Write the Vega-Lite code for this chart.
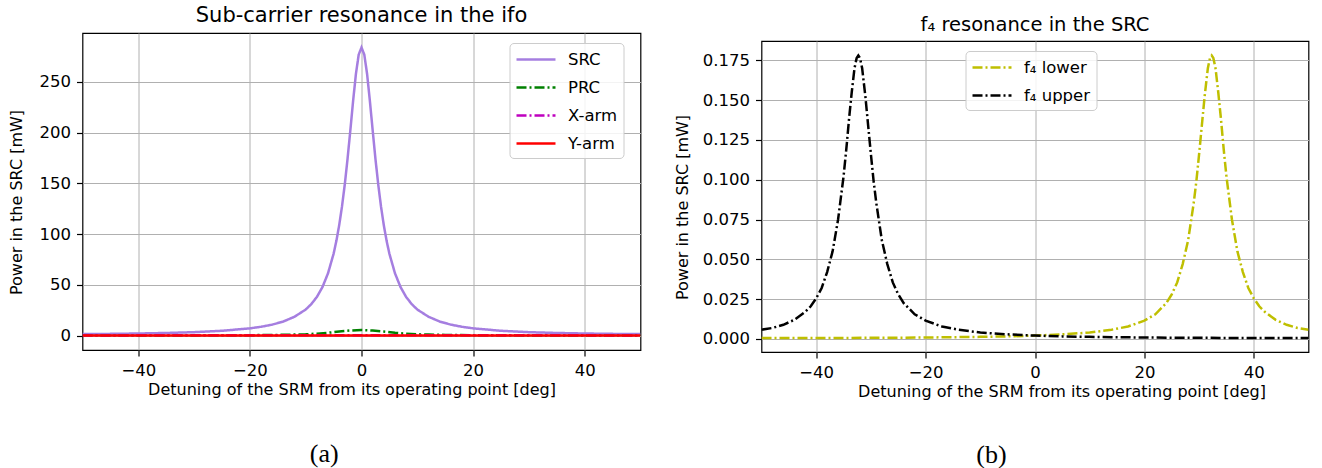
{
  "$schema": "https://vega.github.io/schema/vega-lite/v6.json",
  "padding": {"left": 6.5, "top": 4, "right": 0, "bottom": 0},
  "background": "white",
  "spacing": 32,
  "resolve": {"scale": {"color": "independent", "strokeDash": "independent"}, "legend": {"color": "independent", "strokeDash": "independent"}},
  "config": {
    "font": "DejaVu Sans",
    "view": {"stroke": "black", "strokeWidth": 1.2},
    "axis": {"domain": false, "grid": true, "gridColor": "#b0b0b0", "gridWidth": 1, "tickColor": "black", "tickSize": 6, "tickWidth": 1.2, "labelFont": "DejaVu Sans", "labelFontSize": 16.5, "labelColor": "black", "titleFont": "DejaVu Sans", "titleFontSize": 16, "titleFontWeight": "normal", "titleColor": "black", "labelPadding": 6, "labelOverlap": false, "labelFlush": false},
    "axisX": {"titlePadding": 3},
    "title": {"font": "DejaVu Sans", "fontWeight": "normal", "color": "black", "anchor": "middle"},
    "legend": {"symbolSize": 380, "symbolStrokeWidth": 2.5, "symbolOffset": 10, "labelFont": "DejaVu Sans", "labelFontSize": 16.5, "labelColor": "black", "fillColor": "rgba(255,255,255,0.85)", "strokeColor": "#cccccc", "cornerRadius": 4, "padding": 5.5, "rowPadding": 8, "labelOffset": 21}
  },
  "datasets": {
    "left": [
      {"x": -50, "y": 1.46, "series": "SRC"}, {"x": -45, "y": 1.7, "series": "SRC"}, {"x": -40, "y": 2.06, "series": "SRC"}, {"x": -35, "y": 2.58, "series": "SRC"}, {"x": -30, "y": 3.39, "series": "SRC"}, {"x": -25, "y": 4.73, "series": "SRC"}, {"x": -20, "y": 7.15, "series": "SRC"}, {"x": -18, "y": 8.7, "series": "SRC"}, {"x": -16, "y": 10.8, "series": "SRC"}, {"x": -14, "y": 13.9, "series": "SRC"}, {"x": -12, "y": 18.6, "series": "SRC"}, {"x": -10, "y": 25.7, "series": "SRC"}, {"x": -9, "y": 31.0, "series": "SRC"}, {"x": -8, "y": 38.1, "series": "SRC"}, {"x": -7, "y": 47.8, "series": "SRC"}, {"x": -6, "y": 61.4, "series": "SRC"}, {"x": -5, "y": 80.7, "series": "SRC"}, {"x": -4.5, "y": 93.4, "series": "SRC"}, {"x": -4, "y": 108.7, "series": "SRC"}, {"x": -3.5, "y": 127.1, "series": "SRC"}, {"x": -3, "y": 148.9, "series": "SRC"}, {"x": -2.5, "y": 174.2, "series": "SRC"}, {"x": -2, "y": 202.4, "series": "SRC"}, {"x": -1.5, "y": 231.5, "series": "SRC"}, {"x": -1, "y": 258, "series": "SRC"}, {"x": -0.5, "y": 277, "series": "SRC"}, {"x": 0, "y": 284, "series": "SRC"}, {"x": 0.5, "y": 277, "series": "SRC"}, {"x": 1, "y": 258, "series": "SRC"}, {"x": 1.5, "y": 231.5, "series": "SRC"}, {"x": 2, "y": 202.4, "series": "SRC"}, {"x": 2.5, "y": 174.2, "series": "SRC"}, {"x": 3, "y": 148.9, "series": "SRC"}, {"x": 3.5, "y": 127.1, "series": "SRC"}, {"x": 4, "y": 108.7, "series": "SRC"}, {"x": 4.5, "y": 93.4, "series": "SRC"}, {"x": 5, "y": 80.7, "series": "SRC"}, {"x": 6, "y": 61.4, "series": "SRC"}, {"x": 7, "y": 47.8, "series": "SRC"}, {"x": 8, "y": 38.1, "series": "SRC"}, {"x": 9, "y": 31.0, "series": "SRC"}, {"x": 10, "y": 25.7, "series": "SRC"}, {"x": 12, "y": 18.6, "series": "SRC"}, {"x": 14, "y": 13.9, "series": "SRC"}, {"x": 16, "y": 10.8, "series": "SRC"}, {"x": 18, "y": 8.7, "series": "SRC"}, {"x": 20, "y": 7.15, "series": "SRC"}, {"x": 25, "y": 4.73, "series": "SRC"}, {"x": 30, "y": 3.39, "series": "SRC"}, {"x": 35, "y": 2.58, "series": "SRC"}, {"x": 40, "y": 2.06, "series": "SRC"}, {"x": 45, "y": 1.7, "series": "SRC"}, {"x": 50, "y": 1.46, "series": "SRC"},
      {"x": -50, "y": 0.1, "series": "PRC"}, {"x": -30, "y": 0.2, "series": "PRC"}, {"x": -20, "y": 0.4, "series": "PRC"}, {"x": -15, "y": 0.7, "series": "PRC"}, {"x": -12, "y": 1.0, "series": "PRC"}, {"x": -10, "y": 1.3, "series": "PRC"}, {"x": -8, "y": 1.9, "series": "PRC"}, {"x": -6, "y": 2.8, "series": "PRC"}, {"x": -4, "y": 4.0, "series": "PRC"}, {"x": -2, "y": 5.0, "series": "PRC"}, {"x": 0, "y": 5.5, "series": "PRC"}, {"x": 2, "y": 5.0, "series": "PRC"}, {"x": 4, "y": 4.0, "series": "PRC"}, {"x": 6, "y": 2.8, "series": "PRC"}, {"x": 8, "y": 1.9, "series": "PRC"}, {"x": 10, "y": 1.3, "series": "PRC"}, {"x": 12, "y": 1.0, "series": "PRC"}, {"x": 15, "y": 0.7, "series": "PRC"}, {"x": 20, "y": 0.4, "series": "PRC"}, {"x": 30, "y": 0.2, "series": "PRC"}, {"x": 50, "y": 0.1, "series": "PRC"},
      {"x": -50, "y": 0.2, "series": "X-arm"}, {"x": 0, "y": 0.3, "series": "X-arm"}, {"x": 50, "y": 0.2, "series": "X-arm"},
      {"x": -50, "y": 0.1, "series": "Y-arm"}, {"x": 0, "y": 0.2, "series": "Y-arm"}, {"x": 50, "y": 0.1, "series": "Y-arm"}
    ],
    "right": [
      {"x": -50, "y": 0.0006, "series": "f₄ lower"}, {"x": -40, "y": 0.0006, "series": "f₄ lower"}, {"x": -30, "y": 0.0007, "series": "f₄ lower"}, {"x": -20, "y": 0.0009, "series": "f₄ lower"}, {"x": -15, "y": 0.0011, "series": "f₄ lower"}, {"x": -10, "y": 0.0013, "series": "f₄ lower"}, {"x": -5, "y": 0.0016, "series": "f₄ lower"}, {"x": 0, "y": 0.0021, "series": "f₄ lower"}, {"x": 5, "y": 0.0029, "series": "f₄ lower"}, {"x": 10, "y": 0.0040, "series": "f₄ lower"}, {"x": 14, "y": 0.0058, "series": "f₄ lower"}, {"x": 17, "y": 0.0078, "series": "f₄ lower"}, {"x": 20, "y": 0.0115, "series": "f₄ lower"}, {"x": 22, "y": 0.0155, "series": "f₄ lower"}, {"x": 24, "y": 0.0225, "series": "f₄ lower"}, {"x": 25, "y": 0.0280, "series": "f₄ lower"}, {"x": 26, "y": 0.0355, "series": "f₄ lower"}, {"x": 27, "y": 0.0470, "series": "f₄ lower"}, {"x": 28, "y": 0.0620, "series": "f₄ lower"}, {"x": 29, "y": 0.0850, "series": "f₄ lower"}, {"x": 29.5, "y": 0.0990, "series": "f₄ lower"}, {"x": 30, "y": 0.1160, "series": "f₄ lower"}, {"x": 30.5, "y": 0.1340, "series": "f₄ lower"}, {"x": 31, "y": 0.1520, "series": "f₄ lower"}, {"x": 31.6, "y": 0.1700, "series": "f₄ lower"}, {"x": 32, "y": 0.1765, "series": "f₄ lower"}, {"x": 32.3, "y": 0.1780, "series": "f₄ lower"}, {"x": 32.6, "y": 0.1765, "series": "f₄ lower"}, {"x": 33, "y": 0.1700, "series": "f₄ lower"}, {"x": 33.5, "y": 0.1550, "series": "f₄ lower"}, {"x": 34, "y": 0.1380, "series": "f₄ lower"}, {"x": 34.5, "y": 0.1190, "series": "f₄ lower"}, {"x": 35, "y": 0.1020, "series": "f₄ lower"}, {"x": 36, "y": 0.0750, "series": "f₄ lower"}, {"x": 37, "y": 0.0550, "series": "f₄ lower"}, {"x": 38, "y": 0.0420, "series": "f₄ lower"}, {"x": 39, "y": 0.0320, "series": "f₄ lower"}, {"x": 40, "y": 0.0255, "series": "f₄ lower"}, {"x": 41, "y": 0.0205, "series": "f₄ lower"}, {"x": 42, "y": 0.0170, "series": "f₄ lower"}, {"x": 44, "y": 0.0120, "series": "f₄ lower"}, {"x": 46, "y": 0.0089, "series": "f₄ lower"}, {"x": 48, "y": 0.0069, "series": "f₄ lower"}, {"x": 50, "y": 0.0058, "series": "f₄ lower"},
      {"x": -50, "y": 0.0058, "series": "f₄ upper"}, {"x": -48, "y": 0.0069, "series": "f₄ upper"}, {"x": -46, "y": 0.0089, "series": "f₄ upper"}, {"x": -44, "y": 0.0120, "series": "f₄ upper"}, {"x": -42, "y": 0.0170, "series": "f₄ upper"}, {"x": -41, "y": 0.0205, "series": "f₄ upper"}, {"x": -40, "y": 0.0255, "series": "f₄ upper"}, {"x": -39, "y": 0.0320, "series": "f₄ upper"}, {"x": -38, "y": 0.0420, "series": "f₄ upper"}, {"x": -37, "y": 0.0550, "series": "f₄ upper"}, {"x": -36, "y": 0.0750, "series": "f₄ upper"}, {"x": -35, "y": 0.1020, "series": "f₄ upper"}, {"x": -34.5, "y": 0.1190, "series": "f₄ upper"}, {"x": -34, "y": 0.1380, "series": "f₄ upper"}, {"x": -33.5, "y": 0.1550, "series": "f₄ upper"}, {"x": -33, "y": 0.1700, "series": "f₄ upper"}, {"x": -32.6, "y": 0.1765, "series": "f₄ upper"}, {"x": -32.3, "y": 0.1780, "series": "f₄ upper"}, {"x": -32, "y": 0.1765, "series": "f₄ upper"}, {"x": -31.6, "y": 0.1700, "series": "f₄ upper"}, {"x": -31, "y": 0.1520, "series": "f₄ upper"}, {"x": -30.5, "y": 0.1340, "series": "f₄ upper"}, {"x": -30, "y": 0.1160, "series": "f₄ upper"}, {"x": -29.5, "y": 0.0990, "series": "f₄ upper"}, {"x": -29, "y": 0.0850, "series": "f₄ upper"}, {"x": -28, "y": 0.0620, "series": "f₄ upper"}, {"x": -27, "y": 0.0470, "series": "f₄ upper"}, {"x": -26, "y": 0.0355, "series": "f₄ upper"}, {"x": -25, "y": 0.0280, "series": "f₄ upper"}, {"x": -24, "y": 0.0225, "series": "f₄ upper"}, {"x": -22, "y": 0.0155, "series": "f₄ upper"}, {"x": -20, "y": 0.0115, "series": "f₄ upper"}, {"x": -17, "y": 0.0078, "series": "f₄ upper"}, {"x": -14, "y": 0.0058, "series": "f₄ upper"}, {"x": -10, "y": 0.0040, "series": "f₄ upper"}, {"x": -5, "y": 0.0029, "series": "f₄ upper"}, {"x": 0, "y": 0.0021, "series": "f₄ upper"}, {"x": 5, "y": 0.0016, "series": "f₄ upper"}, {"x": 10, "y": 0.0013, "series": "f₄ upper"}, {"x": 15, "y": 0.0011, "series": "f₄ upper"}, {"x": 20, "y": 0.0009, "series": "f₄ upper"}, {"x": 30, "y": 0.0007, "series": "f₄ upper"}, {"x": 40, "y": 0.0006, "series": "f₄ upper"}, {"x": 50, "y": 0.0006, "series": "f₄ upper"}
    ]
  },
  "hconcat": [
    {
      "title": {"text": "(a)", "orient": "bottom", "font": "Liberation Serif", "fontSize": 26, "fontWeight": "normal", "offset": 43, "anchor": "middle"},
      "vconcat": [
        {
          "width": 558,
          "height": 317,
          "title": {"text": "Sub-carrier resonance in the ifo", "fontSize": 21, "offset": 7},
          "data": {"name": "left"},
          "mark": {"type": "line", "strokeWidth": 2.5, "clip": true},
          "encoding": {
            "x": {"field": "x", "type": "quantitative", "scale": {"domain": [-50, 50], "nice": false, "zero": false},
                  "axis": {"values": [-40, -20, 0, 20, 40], "title": "Detuning of the SRM from its operating point [deg]", "titleX": 269, "labelExpr": "datum.value < 0 ? '−' + format(-datum.value, 'd') : format(datum.value, 'd')"}},
            "y": {"field": "y", "type": "quantitative", "scale": {"domain": [-14.2, 298.3], "nice": false, "zero": false},
                  "axis": {"values": [0, 50, 100, 150, 200, 250], "title": "Power in the SRC [mW]", "titleY": 169, "titlePadding": 15}},
            "color": {"field": "series", "type": "nominal", "scale": {"domain": ["SRC", "PRC", "X-arm", "Y-arm"], "range": ["#a57ee0", "#008000", "#bf00bf", "#ff0000"]},
                      "legend": {"title": null, "orient": "none", "legendX": 427, "legendY": 10, "symbolType": "M-2,0H2"}},
            "strokeDash": {"field": "series", "type": "nominal", "scale": {"domain": ["SRC", "PRC", "X-arm", "Y-arm"], "range": [[1, 0], [10, 3, 2, 3], [10, 3, 2, 3], [1, 0]]},
                      "legend": {"title": null, "orient": "none", "legendX": 427, "legendY": 10, "symbolType": "M-2,0H2"}}
          }
        }
      ]
    },
    {
      "title": {"text": "(b)", "orient": "bottom", "font": "Liberation Serif", "fontSize": 26, "fontWeight": "normal", "offset": 42, "anchor": "middle"},
      "spacing": 5,
      "vconcat": [
        {
          "width": 547,
          "height": 1,
          "title": {"text": "f₄ resonance in the SRC", "fontSize": 19.5, "offset": -2.5},
          "view": {"stroke": null},
          "data": {"values": []},
          "mark": "point"
        },
        {
          "width": 547,
          "height": 311,
          "data": {"name": "right"},
          "mark": {"type": "line", "strokeWidth": 2.5, "clip": true},
          "encoding": {
            "x": {"field": "x", "type": "quantitative", "scale": {"domain": [-50, 50], "nice": false, "zero": false},
                  "axis": {"values": [-40, -20, 0, 20, 40], "title": "Detuning of the SRM from its operating point [deg]", "titleX": 300, "labelExpr": "datum.value < 0 ? '−' + format(-datum.value, 'd') : format(datum.value, 'd')"}},
            "y": {"field": "y", "type": "quantitative", "scale": {"domain": [-0.0082, 0.1871], "nice": false, "zero": false},
                  "axis": {"values": [0, 0.025, 0.05, 0.075, 0.1, 0.125, 0.15, 0.175], "format": ".3f", "title": "Power in the SRC [mW]", "titleY": 166, "titlePadding": 12}},
            "color": {"field": "series", "type": "nominal", "scale": {"domain": ["f₄ lower", "f₄ upper"], "range": ["#bfbf00", "#000000"]},
                      "legend": {"title": null, "orient": "none", "legendX": 204, "legendY": 18, "symbolType": "M-2,0H2"}},
            "strokeDash": {"field": "series", "type": "nominal", "scale": {"domain": ["f₄ lower", "f₄ upper"], "range": [[10, 3, 2, 3], [10, 3, 2, 3]]},
                      "legend": {"title": null, "orient": "none", "legendX": 204, "legendY": 18, "symbolType": "M-2,0H2"}}
          }
        }
      ]
    }
  ]
}
